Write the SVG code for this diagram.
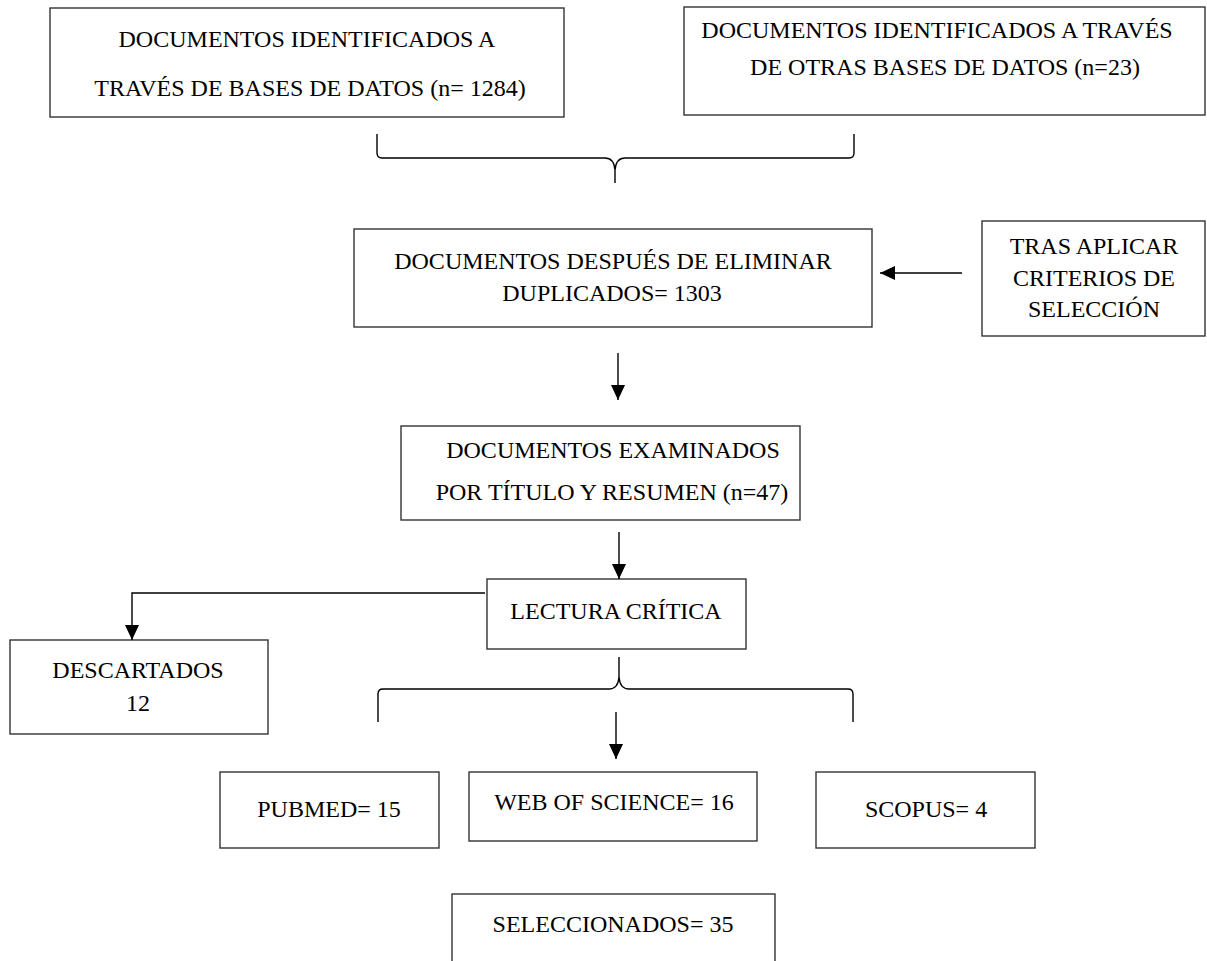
<svg xmlns="http://www.w3.org/2000/svg" width="1207" height="961" viewBox="0 0 1207 961">
<style>
.box{fill:#fff;stroke:#333;stroke-width:1.4}
.t{font-family:"Liberation Serif","Times New Roman",serif;font-size:24px;fill:#000;text-anchor:middle}
.c{fill:none;stroke:#000;stroke-width:1.4}
</style>
<defs>
<marker id="ah" markerWidth="16" markerHeight="14" refX="15" refY="7" orient="auto" markerUnits="userSpaceOnUse"><path d="M0,0 L15,7 L0,14 z" fill="#000"/></marker>
</defs>
<rect width="1207" height="961" fill="#fff"/>
<g id="n1"><rect class="box" x="50" y="8" width="514" height="109"/>
<text class="t" x="307" y="47">DOCUMENTOS IDENTIFICADOS A</text>
<text class="t" x="310" y="96">TRAVÉS DE BASES DE DATOS (n= 1284)</text></g>
<g id="n2"><rect class="box" x="684" y="7" width="521" height="108"/>
<text class="t" x="937" y="38">DOCUMENTOS IDENTIFICADOS A TRAVÉS</text>
<text class="t" x="945" y="75">DE OTRAS BASES DE DATOS (n=23)</text></g>
<g id="n3"><rect class="box" x="354" y="229" width="518" height="98"/>
<text class="t" x="613" y="269">DOCUMENTOS DESPUÉS DE ELIMINAR</text>
<text class="t" x="612" y="301">DUPLICADOS= 1303</text></g>
<g id="n4"><rect class="box" x="982" y="221" width="223" height="115"/>
<text class="t" x="1094" y="254">TRAS APLICAR</text>
<text class="t" x="1094" y="286">CRITERIOS DE</text>
<text class="t" x="1094" y="317">SELECCIÓN</text></g>
<g id="n5"><rect class="box" x="401" y="426" width="399" height="94"/>
<text class="t" x="613" y="458">DOCUMENTOS EXAMINADOS</text>
<text class="t" x="612" y="500">POR TÍTULO Y RESUMEN (n=47)</text></g>
<g id="n6"><rect class="box" x="487" y="579" width="259" height="70"/>
<text class="t" x="616" y="619">LECTURA CRÍTICA</text></g>
<g id="n7"><rect class="box" x="10" y="640" width="258" height="94"/>
<text class="t" x="138" y="678">DESCARTADOS</text>
<text class="t" x="138" y="711">12</text></g>
<g id="n8"><rect class="box" x="220" y="772" width="219" height="76"/>
<text class="t" x="329" y="817">PUBMED= 15</text></g>
<g id="n9"><rect class="box" x="469" y="772" width="288" height="69"/>
<text class="t" x="614" y="810">WEB OF SCIENCE= 16</text></g>
<g id="n10"><rect class="box" x="816" y="772" width="219" height="76"/>
<text class="t" x="926" y="817">SCOPUS= 4</text></g>
<g id="n11"><rect class="box" x="452" y="894" width="323" height="90"/>
<text class="t" x="613" y="932">SELECCIONADOS= 35</text></g>
<g id="connectors">
<path class="c" d="M377,134 L377,153 Q377,158 382,158 L605,158 Q614,158 615,170 L615,183 M615,170 Q616,158 625,158 L849,158 Q854,158 854,153 L854,134"/>
<path class="c" d="M378,722 L378,694 Q378,689 383,689 L609,689 Q618,689 619,677 L619,657 M619,677 Q620,689 629,689 L848,689 Q853,689 853,694 L853,722"/>
<path class="c" d="M962,273 L880,273" marker-end="url(#ah)"/>
<path class="c" d="M618,353 L618,400" marker-end="url(#ah)"/>
<path class="c" d="M619,532 L619,579" marker-end="url(#ah)"/>
<path class="c" d="M485,593 L132,593 L132,640" marker-end="url(#ah)"/>
<path class="c" d="M616,712 L616,759" marker-end="url(#ah)"/>
</g>
</svg>
